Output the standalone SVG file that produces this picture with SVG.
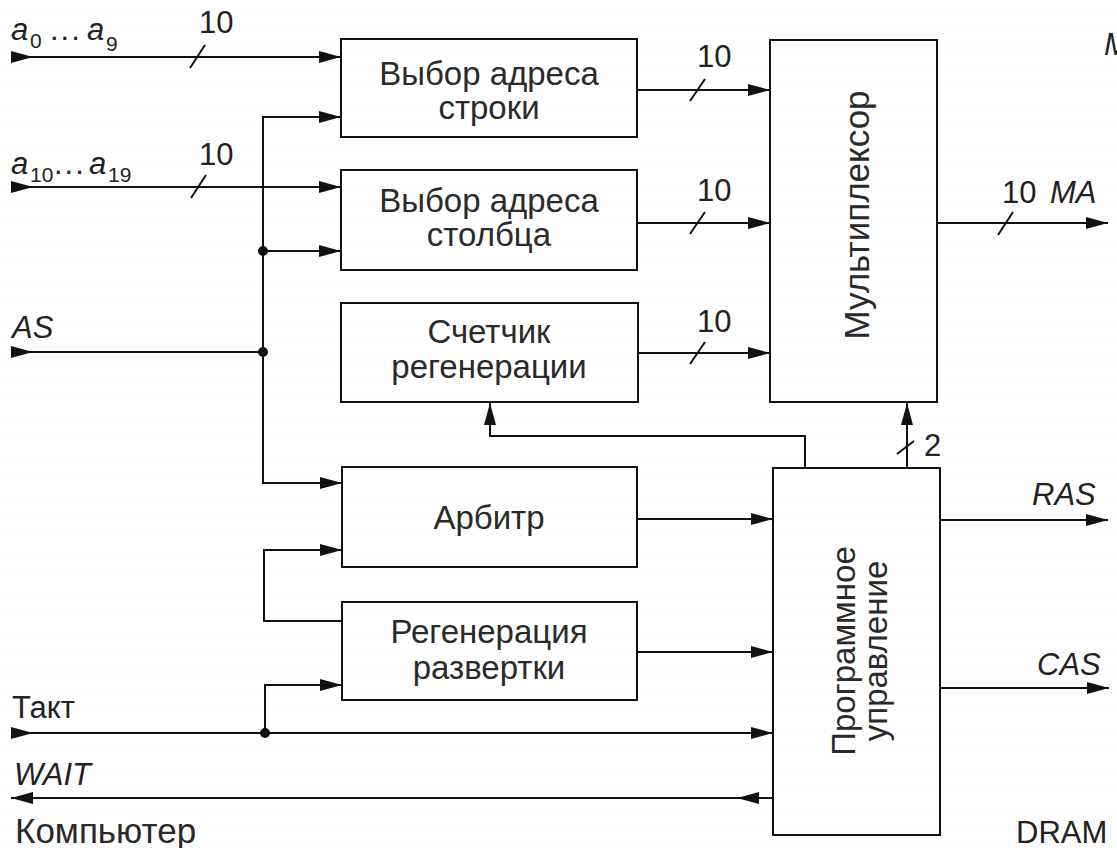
<svg xmlns="http://www.w3.org/2000/svg" width="1117" height="848" viewBox="0 0 1117 848">
<style>
.box{fill:none;stroke:#111;stroke-width:2}
.ln{fill:none;stroke:#111;stroke-width:2}
.t{font-family:"Liberation Sans",Arial,sans-serif;font-size:33px;fill:#2a2a2a}
.c{text-anchor:middle}
.i{font-style:italic}
.lbl{font-family:"Liberation Sans",Arial,sans-serif;font-size:31px;fill:#222}
.sub{font-size:21px}
.dots{letter-spacing:2px}
</style>
<defs>
<marker id="ah" markerUnits="userSpaceOnUse" markerWidth="22" markerHeight="12" refX="22" refY="6" orient="auto">
<path d="M0,0 L22,6 L0,12 Z" fill="#111"/>
</marker>
<pattern id="grid" width="16" height="19.5" patternUnits="userSpaceOnUse">
<circle cx="8" cy="9" r="0.8" fill="#e6e6e6"/>
</pattern>
</defs>
<rect width="1117" height="848" fill="#fff"/>
<rect width="1117" height="848" fill="url(#grid)"/>

<g id="connectors">
<path class="ln" d="M11,57 H341" marker-end="url(#ah)"/>
<path class="ln" d="M11,57 H33" marker-end="url(#ah)"/>
<path class="ln" d="M190,68 L205,45"/>
<path class="ln" d="M11,187 H341" marker-end="url(#ah)"/>
<path class="ln" d="M11,187 H33" marker-end="url(#ah)"/>
<path class="ln" d="M191,198 L206,175"/>
<path class="ln" d="M341,117 H263 V483 H342" marker-end="url(#ah)"/>
<path class="ln" d="M263,117 H341" marker-end="url(#ah)"/>
<path class="ln" d="M263,251 H341" marker-end="url(#ah)"/>
<circle cx="263" cy="251" r="5" fill="#111"/>
<path class="ln" d="M11,352 H263"/>
<path class="ln" d="M11,352 H33" marker-end="url(#ah)"/>
<circle cx="263" cy="352" r="5" fill="#111"/>
<path class="ln" d="M342,621 H264 V550 H342" marker-end="url(#ah)"/>
<path class="ln" d="M11,733 H773" marker-end="url(#ah)"/>
<path class="ln" d="M11,733 H33" marker-end="url(#ah)"/>
<path class="ln" d="M265,733 V685 H342" marker-end="url(#ah)"/>
<circle cx="265" cy="733" r="5" fill="#111"/>
<path class="ln" d="M773,798 H11" marker-end="url(#ah)"/>
<path class="ln" d="M773,798 H737" marker-end="url(#ah)"/>
<path class="ln" d="M637,90 H770" marker-end="url(#ah)"/>
<path class="ln" d="M690,101 L705,79"/>
<path class="ln" d="M637,223 H770" marker-end="url(#ah)"/>
<path class="ln" d="M690,234 L705,212"/>
<path class="ln" d="M637,353 H770" marker-end="url(#ah)"/>
<path class="ln" d="M690,364 L705,342"/>
<path class="ln" d="M637,519 H773" marker-end="url(#ah)"/>
<path class="ln" d="M637,652 H773" marker-end="url(#ah)"/>
<path class="ln" d="M937,223 H1108" marker-end="url(#ah)"/>
<path class="ln" d="M998,235 L1013,212"/>
<path class="ln" d="M907,468 V403" marker-end="url(#ah)"/>
<path class="ln" d="M897,454 L914,441"/>
<path class="ln" d="M805,468 V436 H490 V403" marker-end="url(#ah)"/>
<path class="ln" d="M940,520 H1108" marker-end="url(#ah)"/>
<path class="ln" d="M940,688 H1109" marker-end="url(#ah)"/>
</g>

<g id="labels">
<text class="lbl i" x="11" y="40">a</text>
<text class="lbl sub" x="30" y="48">0</text>
<text class="lbl dots" x="50" y="40">...</text>
<text class="lbl i" x="87" y="40">a</text>
<text class="lbl sub" x="106" y="51">9</text>
<text class="lbl" x="199" y="33">10</text>
<text class="lbl i" x="11" y="174">a</text>
<text class="lbl sub" x="30" y="182">10</text>
<text class="lbl dots" x="54" y="174">...</text>
<text class="lbl i" x="89" y="174">a</text>
<text class="lbl sub" x="108" y="182">19</text>
<text class="lbl" x="199" y="165">10</text>
<text class="lbl i" x="12" y="338">AS</text>
<text class="lbl" x="12" y="718">Такт</text>
<text class="lbl i" x="14" y="785">WAIT</text>
<text class="t" x="15" y="843" style="font-size:35px">Компьютер</text>
<text class="lbl" x="697" y="67">10</text>
<text class="lbl" x="697" y="201">10</text>
<text class="lbl" x="697" y="332">10</text>
<text class="lbl" x="1002" y="203">10</text>
<text class="lbl i" x="1050" y="203">MA</text>
<text class="lbl i" x="1104" y="55">M</text>
<text class="lbl" x="924" y="456">2</text>
<text class="lbl i" x="1032" y="505">RAS</text>
<text class="lbl i" x="1037" y="675">CAS</text>
<text class="lbl" x="1016" y="843">DRAM</text>
</g>

<g id="row-select">
<rect class="box" x="341" y="39" width="296" height="98"/>
<text class="t c" x="489" y="85">Выбор адреса</text>
<text class="t c" x="489" y="119">строки</text>
</g>
<g id="col-select">
<rect class="box" x="341" y="170" width="296" height="100"/>
<text class="t c" x="489" y="212">Выбор адреса</text>
<text class="t c" x="489" y="246">столбца</text>
</g>
<g id="refresh-counter">
<rect class="box" x="341" y="303" width="297" height="99"/>
<text class="t c" x="489" y="343">Счетчик</text>
<text class="t c" x="489" y="378">регенерации</text>
</g>
<g id="arbiter">
<rect class="box" x="342" y="467" width="295" height="100"/>
<text class="t c" x="489" y="529">Арбитр</text>
</g>
<g id="refresh-scan">
<rect class="box" x="342" y="602" width="295" height="98"/>
<text class="t c" x="489" y="643">Регенерация</text>
<text class="t c" x="489" y="679">развертки</text>
</g>
<g id="mux">
<rect class="box" x="770" y="40" width="167" height="362"/>
<text class="t c" transform="translate(869,215) rotate(-90)" style="font-size:35px">Мультиплексор</text>
</g>
<g id="control">
<rect class="box" x="773" y="468" width="167" height="367"/>
<text class="t c" transform="translate(855,651) rotate(-90)">Программное</text>
<text class="t c" transform="translate(887,651) rotate(-90)">управление</text>
</g>
</svg>
